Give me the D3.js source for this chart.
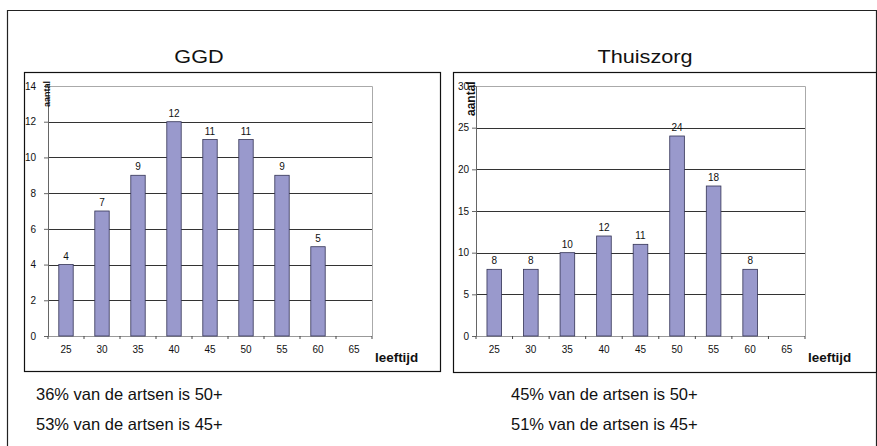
<!DOCTYPE html>
<html><head><meta charset="utf-8">
<script src="https://cdn.jsdelivr.net/npm/d3@7"></script>
<style>body{margin:0;background:#fff}svg{display:block}text{font-family:Arial,"Liberation Sans",sans-serif}</style>
</head><body>
<script>
const categories = ["25","30","35","40","45","50","55","60","65"];
const ggdValues = [4,7,9,12,11,11,9,5,null];
const thuisValues = [8,8,10,12,11,24,18,8,null];
const ggdTicks = [0,2,4,6,8,10,12,14];
const thuisTicks = [0,5,10,15,20,25,30];
const ggdNotes = ["36% van de artsen is 50+","53% van de artsen is 45+"];
const thuisNotes = ["45% van de artsen is 50+","51% van de artsen is 45+"];

const W=877,H=446;
const svg=d3.select("body").append("svg").attr("width",W).attr("height",H);
svg.append("path").attr("d","M7.5,446 V10.5 H876.5 V446").attr("fill","none").attr("stroke","#222").attr("stroke-width",1.2);

function panel(o){
  const g=svg.append("g");
  g.append("rect").attr("x",o.box[0]+.5).attr("y",o.box[1]+.5).attr("width",o.box[2]-o.box[0]).attr("height",o.box[3]-o.box[1])
    .attr("fill","#fff").attr("stroke","#111").attr("stroke-width",1.2);
  g.append("text").attr("transform",`translate(${o.titleX},63) scale(1.14,1)`).attr("text-anchor","middle").attr("font-size",19).attr("fill","#111").text(o.title);
  const x=d3.scaleBand().domain(categories).range([o.pl,o.pr]).paddingInner(0.6).paddingOuter(0.3);
  const y=d3.scaleLinear().domain([0,o.max]).range([336,86]);
  g.append("path").attr("d",`M${o.pl},86.5 H${o.pr+.5} V336`).attr("fill","none").attr("stroke","#aaa");
  g.selectAll(".gl").data(o.ticks.filter(t=>t>0&&t<o.max)).join("line")
    .attr("x1",o.pl).attr("x2",o.pr).attr("y1",d=>Math.round(y(d))+.5).attr("y2",d=>Math.round(y(d))+.5)
    .attr("stroke","#333").attr("stroke-width",1);
  const ya=g.append("g").attr("transform",`translate(${o.pl},0)`).call(d3.axisLeft(y).tickValues(o.ticks).tickSize(4).tickPadding(o.tpad));
  ya.select(".domain").attr("stroke","#666");
  ya.selectAll("line").attr("stroke","#666");
  ya.selectAll("text").attr("font-size",10).attr("fill","#111").style("font-family","Arial,sans-serif");
  const step=x.step();
  const xa=g.append("g").attr("transform",`translate(0,336)`);
  xa.append("line").attr("x1",o.pl).attr("x2",o.pr).attr("y1",.5).attr("y2",.5).attr("stroke","#999");
  xa.selectAll(".tk").data(d3.range(categories.length+1)).join("line")
    .attr("x1",i=>o.pl+i*step).attr("x2",i=>o.pl+i*step).attr("y1",0).attr("y2",3).attr("stroke","#444");
  xa.selectAll("text").data(categories).join("text")
    .attr("x",d=>x(d)+x.bandwidth()/2).attr("y",17).attr("text-anchor","middle").attr("font-size",10).attr("fill","#111").text(d=>d);
  const data=categories.map((c,i)=>({c,v:o.values[i]})).filter(d=>d.v!=null);
  g.selectAll(".bar").data(data).join("rect")
    .attr("x",d=>x(d.c)).attr("width",x.bandwidth()).attr("y",d=>y(d.v)).attr("height",d=>y(0)-y(d.v))
    .attr("fill","#9999cc").attr("stroke","#333355").attr("stroke-width",0.8);
  g.selectAll(".lbl").data(data).join("text")
    .attr("x",d=>x(d.c)+x.bandwidth()/2).attr("y",d=>y(d.v)-5).attr("text-anchor","middle").attr("font-size",10).attr("fill","#111").text(d=>d.v);
  g.append("text").attr("transform",`translate(${o.aantalX},${o.aantalY}) rotate(-90)`).attr("font-size",o.aantalSize).attr("font-weight","bold").attr("fill","#111").text("aantal");
  g.append("text").attr("transform",`translate(${o.pr+3},362) scale(1.12,1)`).attr("font-size",12).attr("font-weight","bold").attr("fill","#111").text("leeftijd");
  o.notes.forEach((t,i)=>g.append("text").attr("x",o.noteX).attr("y",400+i*30).attr("font-size",16.5).attr("fill","#111").text(t));
}
panel({box:[24,72,440,371],title:"GGD",titleX:199,pl:48,pr:372,max:14,ticks:ggdTicks,values:ggdValues,aantalX:50,aantalY:107,aantalSize:9,tpad:8,notes:ggdNotes,noteX:36});
panel({box:[453,72,876,372],title:"Thuiszorg",titleX:645,pl:476,pr:805,max:30,ticks:thuisTicks,values:thuisValues,aantalX:475,aantalY:116,aantalSize:12,tpad:3,notes:thuisNotes,noteX:511});
</script>
</body></html>
